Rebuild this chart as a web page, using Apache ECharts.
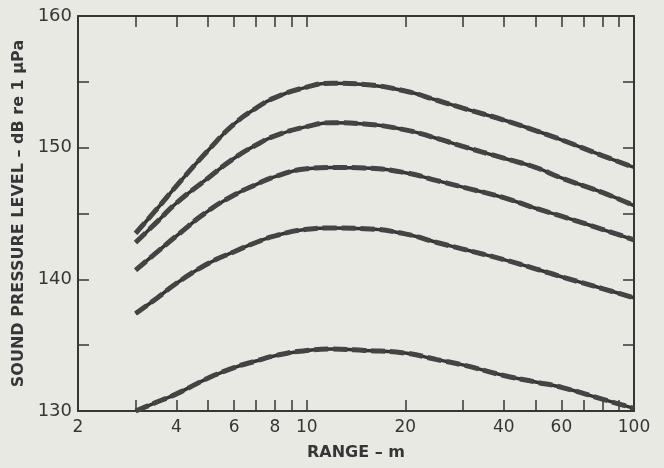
<!DOCTYPE html>
<html>
<head>
<meta charset="utf-8">
<script src="https://cdn.jsdelivr.net/npm/echarts@6/dist/echarts.min.js"></script>
<style>
  html, body { margin: 0; padding: 0; background: #e9e9e4; }
  #chart { width: 664px; height: 468px; }
</style>
</head>
<body>
<div id="chart"></div>
<script>
// range in metres
var ranges = [3, 3.5, 4, 5, 6, 7, 8, 10, 12, 15, 20, 25, 30, 40, 50, 60, 80, 100];
// sound pressure level, dB re 1 uPa, top curve first
var curve1 = [143.5, 145.4, 147.1, 149.8, 151.8, 153.0, 153.8, 154.6, 154.9, 154.8, 154.3, 153.6, 153.0, 152.1, 151.3, 150.6, 149.4, 148.5];
var curve2 = [142.8, 144.4, 145.8, 147.7, 149.2, 150.2, 150.9, 151.6, 151.9, 151.8, 151.35, 150.7, 150.1, 149.2, 148.5, 147.7, 146.6, 145.6];
var curve3 = [140.7, 142.1, 143.3, 145.2, 146.4, 147.2, 147.8, 148.4, 148.5, 148.45, 148.1, 147.5, 147.0, 146.2, 145.4, 144.8, 143.8, 143.0];
var curve4 = [137.4, 138.6, 139.7, 141.2, 142.1, 142.8, 143.3, 143.8, 143.9, 143.85, 143.45, 142.8, 142.3, 141.5, 140.8, 140.2, 139.3, 138.6];
var curve5 = [130.0, 130.7, 131.3, 132.5, 133.3, 133.8, 134.2, 134.6, 134.7, 134.6, 134.4, 133.9, 133.5, 132.7, 132.2, 131.8, 130.9, 130.2];

var xLabels = [2, 4, 6, 8, 10, 20, 40, 60, 100];
var xTicks = [3, 4, 5, 6, 7, 8, 9, 10, 20, 30, 40, 50, 60, 70, 80, 90];
var yTicks = [135, 140, 145, 150, 155];

var ink = '#363636';
var font = 'DejaVu Sans';

function pairs(vals) {
  var out = [];
  for (var i = 0; i < ranges.length; i++) {
    out.push([ranges[i], vals[i]]);
  }
  return out;
}

var series = [];
[curve1, curve2, curve3, curve4, curve5].forEach(function (c) {
  series.push({
    type: 'line', data: pairs(c), smooth: 0.5, symbol: 'none', silent: true,
    lineStyle: { color: ink, width: 3.5 }
  });
  series.push({
    type: 'line', data: pairs(c), smooth: 0.5, symbol: 'none', silent: true,
    lineStyle: { color: '#444', width: 5, type: [14, 5] }
  });
});

var axisLine = { show: true, lineStyle: { color: ink, width: 2 } };
var tickStyle = { color: ink, width: 1.5 };

var chart = echarts.init(document.getElementById('chart'));
chart.setOption({
  backgroundColor: '#e9e9e4',
  animation: false,
  grid: { left: 78, right: 30, top: 16, bottom: 57 },
  xAxis: [{
    type: 'log', min: 2, max: 100, position: 'bottom',
    axisLine: axisLine,
    axisTick: { show: true, inside: true, length: 11, customValues: xTicks, lineStyle: tickStyle },
    minorTick: { show: false },
    splitLine: { show: false },
    axisLabel: { customValues: xLabels, color: ink, fontFamily: font, fontSize: 17, margin: 8 },
    name: 'RANGE \u2013 m', nameLocation: 'middle', nameGap: 34,
    nameTextStyle: { color: ink, fontFamily: font, fontSize: 16, fontWeight: 'bold' }
  }, {
    type: 'log', min: 2, max: 100, position: 'top',
    axisLine: axisLine,
    axisTick: { show: true, inside: true, length: 11, customValues: xTicks, lineStyle: tickStyle },
    splitLine: { show: false },
    axisLabel: { show: false }
  }],
  yAxis: [{
    type: 'value', min: 130, max: 160, interval: 10, position: 'left',
    axisLine: axisLine,
    axisTick: { show: true, inside: true, length: 11, customValues: yTicks, lineStyle: tickStyle },
    splitLine: { show: false },
    axisLabel: { color: ink, fontFamily: font, fontSize: 18, margin: 6 },
    name: 'SOUND PRESSURE LEVEL \u2013 dB re 1 \u03bcPa', nameLocation: 'middle', nameGap: 51,
    nameTextStyle: { color: ink, fontFamily: font, fontSize: 16, fontWeight: 'bold' }
  }, {
    type: 'value', min: 130, max: 160, interval: 10, position: 'right',
    axisLine: axisLine,
    axisTick: { show: true, inside: true, length: 11, customValues: yTicks, lineStyle: tickStyle },
    splitLine: { show: false },
    axisLabel: { show: false }
  }],
  series: series
});
</script>
</body>
</html>
